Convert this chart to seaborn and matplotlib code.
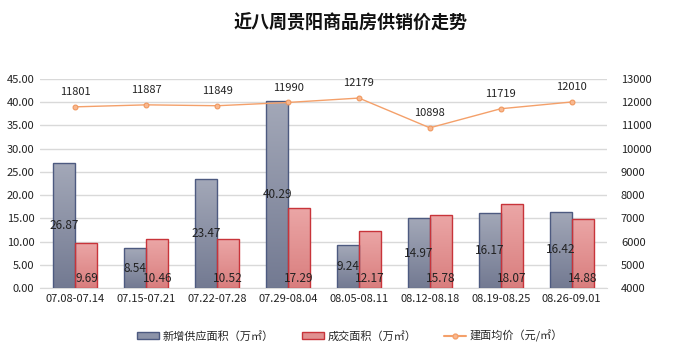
import numpy as np
import pandas as pd
import matplotlib
matplotlib.use('Agg')
import matplotlib.pyplot as plt
from matplotlib import colors
from matplotlib.patches import Patch
from matplotlib.lines import Line2D
import seaborn as sns

weeks = ['07.08-07.14', '07.15-07.21', '07.22-07.28', '07.29-08.04',
         '08.05-08.11', '08.12-08.18', '08.19-08.25', '08.26-09.01']
supply = [26.87, 8.54, 23.47, 40.29, 9.24, 14.97, 16.17, 16.42]
sold = [9.69, 10.46, 10.52, 17.29, 12.17, 15.78, 18.07, 14.88]
price = [11801, 11887, 11849, 11990, 12179, 10898, 11719, 12010]

s_supply = '新增供应面积（万㎡）'
s_sold = '成交面积（万㎡）'
s_price = '建面均价（元/㎡）'

sns.set_style('white')
plt.rcParams['font.family'] = ['Noto Sans CJK SC', 'DejaVu Sans']

df = pd.DataFrame({'week': weeks * 2,
                   'series': [s_supply] * len(weeks) + [s_sold] * len(weeks),
                   'value': supply + sold})

fig = plt.figure(figsize=(7.0, 3.54), dpi=100)
ax = fig.add_axes([40 / 700, 1 - 288 / 354, 567 / 700, 209 / 354])

pal = {s_supply: '#8c93a8', s_sold: '#e09090'}
sns.barplot(ax=ax, data=df, x='week', y='value', hue='series', palette=pal,
            width=0.62, gap=0, legend=False, saturation=1)

# vertical gradient fill, lighter at the top
grads = [('#a3a8b8', '#737a92', '#4d5a80'), ('#eba6a6', '#d97e7e', '#c8343a')]
containers = ax.containers
for (top, bot, edge), cont in zip(grads, containers):
    cmap = colors.LinearSegmentedColormap.from_list('g', [bot, top])
    for p in cont.patches:
        x0, y0 = p.get_x(), p.get_y()
        w, h = p.get_width(), p.get_height()
        grad = np.linspace(0, 1, 64).reshape(-1, 1)
        im = ax.imshow(grad, cmap=cmap, aspect='auto', origin='lower',
                       extent=[x0, x0 + w, y0, y0 + h], zorder=2)
        im.set_clip_path(p)
        p.set_facecolor('none')
        p.set_edgecolor(edge)
        p.set_linewidth(1.0)
        p.set_zorder(3)

ax.bar_label(containers[0], labels=[f'{v:.2f}' for v in supply],
             label_type='center', fontsize=8.5, color='#222222', zorder=5)
for p, v in zip(containers[1].patches, sold):
    ax.annotate(f'{v:.2f}', (p.get_x() + p.get_width() / 2, 0),
                xytext=(0, 2), textcoords='offset points', ha='center',
                va='bottom', fontsize=8.5, color='#222222', zorder=5)

ax.set_xlim(-0.5, len(weeks) - 0.5)
ax.set_ylim(0, 45)
ax.set_yticks(np.arange(0, 46, 5))
ax.set_yticklabels([f'{v:.2f}' for v in np.arange(0, 46, 5)])
ax.set_xlabel('')
ax.set_ylabel('')
ax.grid(axis='y', color='#d9d9d9', linewidth=1)
ax.set_axisbelow(True)
for s in ['top', 'right', 'left']:
    ax.spines[s].set_visible(False)
ax.spines['bottom'].set_color('#d9d9d9')
ax.tick_params(axis='both', labelsize=8, length=0, colors='#222222', pad=4)

ax2 = ax.twinx()
pdf = pd.DataFrame({'week': weeks, 'price': price})
sns.pointplot(ax=ax2, data=pdf, x='week', y='price', color='#f4a06a',
              markers='o', markersize=3.5, linewidth=1.0, zorder=4)
for l in ax2.lines:
    l.set_markerfacecolor('#f8b890')
    l.set_markeredgecolor('#f0955a')
for i, v in enumerate(price):
    ax2.annotate(str(v), (i, v), xytext=(0, 7), textcoords='offset points',
                 ha='center', va='bottom', fontsize=8, color='#222222')
ax2.set_ylim(4000, 13000)
ax2.set_yticks(np.arange(4000, 13001, 1000))
ax2.set_ylabel('')
ax2.set_xlabel('')
for s in ['top', 'right', 'left', 'bottom']:
    ax2.spines[s].set_visible(False)
ax2.tick_params(axis='y', labelsize=8, length=0, colors='#222222', pad=10)
ax2.set_xlim(-0.5, len(weeks) - 0.5)

fig.text(351 / 700, 1 - 23 / 354, '近八周贵阳商品房供销价走势', ha='center', va='center',
         fontsize=13, fontweight='bold', color='#111111')

handles = [Patch(facecolor='#8c93a8', edgecolor='#4d5a80', label=s_supply),
           Patch(facecolor='#e09090', edgecolor='#c8343a', label=s_sold),
           Line2D([], [], color='#f4a06a', marker='o', markersize=3.5,
                  markerfacecolor='#f8b890', label=s_price)]
fig.legend(handles=handles, loc='center', bbox_to_anchor=(0.50, 1 - 336 / 354),
           ncol=3, frameon=False, fontsize=8, handlelength=2.0, handleheight=0.6,
           columnspacing=2.5, handletextpad=0.3)

fig.savefig('out.png', dpi=100, facecolor='white')
